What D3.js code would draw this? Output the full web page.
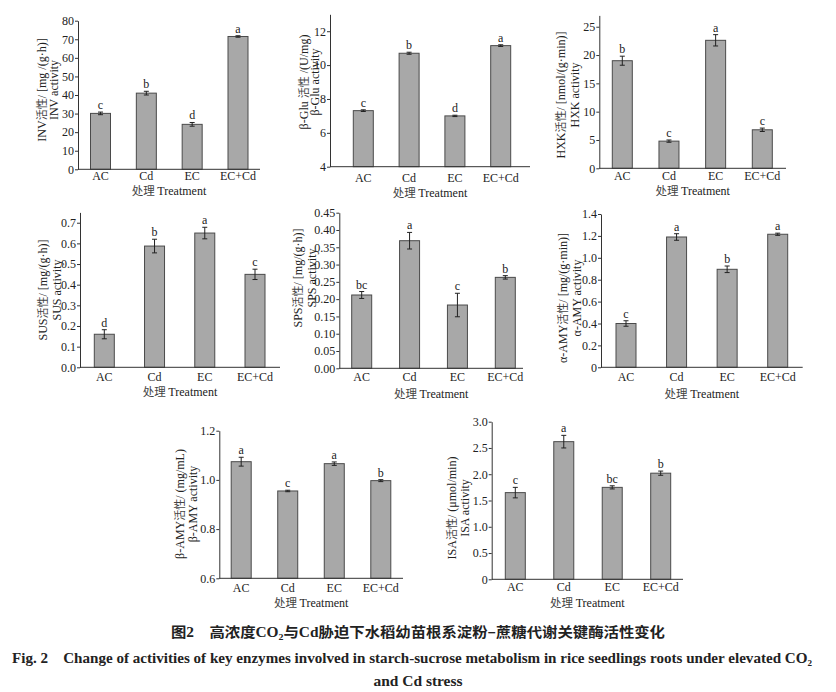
<!DOCTYPE html>
<html>
<head>
<meta charset="utf-8">
<script src="https://cdn.jsdelivr.net/npm/d3@7"></script>
<style>
  body { margin: 0; background: #fff; }
  svg { display: block; }
  text { font-family: "Liberation Serif", serif; fill: #222; }
  .cjk { font-family: "Noto Sans CJK SC", sans-serif; }
</style>
</head>
<body>
<div id="container"></div>
<script>
const width = 836;
const height = 692;

// treatments on every x axis
const treatments = ["AC", "Cd", "EC", "EC+Cd"];

// enzyme activities: mean, error, significance letter
const invMean = [30.1, 41.0, 24.2, 71.5];
const invErr = [0.7, 1.0, 1.0, 0.4];
const invSig = ["c", "b", "d", "a"];
const invTicks = [0, 10, 20, 30, 40, 50, 60, 70, 80];

const gluMean = [7.31, 10.70, 7.0, 11.15];
const gluErr = [0.05, 0.06, 0.04, 0.05];
const gluSig = ["c", "b", "d", "a"];
const gluTicks = [4, 6, 8, 10, 12];

const hxkMean = [19.0, 4.8, 22.6, 6.8];
const hxkErr = [0.8, 0.2, 1.0, 0.3];
const hxkSig = ["b", "c", "a", "c"];
const hxkTicks = [0, 5, 10, 15, 20, 25];

const susMean = [0.16, 0.587, 0.65, 0.45];
const susErr = [0.022, 0.033, 0.028, 0.025];
const susSig = ["d", "b", "a", "c"];
const susTicks = [0, 0.1, 0.2, 0.3, 0.4, 0.5, 0.6, 0.7];

const spsMean = [0.212, 0.369, 0.183, 0.263];
const spsErr = [0.01, 0.024, 0.034, 0.005];
const spsSig = ["bc", "a", "c", "b"];
const spsTicks = [0, 0.05, 0.10, 0.15, 0.20, 0.25, 0.30, 0.35, 0.40, 0.45];

const aamyMean = [0.40, 1.19, 0.895, 1.215];
const aamyErr = [0.025, 0.03, 0.03, 0.01];
const aamySig = ["c", "a", "b", "a"];
const aamyTicks = [0, 0.2, 0.4, 0.6, 0.8, 1.0, 1.2, 1.4];

const bamyMean = [1.074, 0.955, 1.066, 0.997];
const bamyErr = [0.018, 0.003, 0.007, 0.004];
const bamySig = ["a", "c", "a", "b"];
const bamyTicks = [0.6, 0.8, 1.0, 1.2];

const isaMean = [1.65, 2.62, 1.75, 2.02];
const isaErr = [0.1, 0.12, 0.03, 0.04];
const isaSig = ["c", "a", "bc", "b"];
const isaTicks = [0, 0.5, 1.0, 1.5, 2.0, 2.5, 3.0];

const fmtZero = d => d === 0 ? "0" : d3.format(".1f")(d);

// panel placement (pixels) -- measured off the reference
// lab: [latin prefix, cjk part, latin suffix] + second line
const panels = [
  { mean: invMean, err: invErr, sig: invSig, ticks: invTicks, domain: [0, 80], fmt: d3.format("d"),
    ax: 78, end: 260, yB: 169.3, yT: 20.7, c1: 100.5, c4: 238,
    lab: [["INV", "活性", "/ [mg /(g·h)]"], "INV activity"], lx: [42, 54], ly: 90, xl: 175.5, tl: 190.5 },
  { mean: gluMean, err: gluErr, sig: gluSig, ticks: gluTicks, domain: [4, 13], fmt: d3.format("d"),
    ax: 330, end: 530, yB: 166.7, yT: 14.3, c1: 363.3, c4: 500.7,
    lab: [["β-Glu ", "活性", " /(U/mg)"], "β-Glu activity"], lx: [304, 315], ly: 82, xl: 177.5, tl: 192.5 },
  { mean: hxkMean, err: hxkErr, sig: hxkSig, ticks: hxkTicks, domain: [0, 27], fmt: d3.format("d"),
    ax: 599.3, end: 786, yB: 168.3, yT: 15.4, c1: 622.3, c4: 762.3,
    lab: [["HXK", "活性", "/ [nmol/(g·min)]"], "HXK activity"], lx: [561, 575], ly: 95, xl: 175.5, tl: 191 },
  { mean: susMean, err: susErr, sig: susSig, ticks: susTicks, domain: [0, 0.75], fmt: d3.format(".1f"),
    ax: 80, end: 280, yB: 367.3, yT: 212.4, c1: 104.3, c4: 255,
    lab: [["SUS", "活性", "/ [mg/(g·h)]"], "SUS activity"], lx: [43, 57], ly: 290, xl: 376.5, tl: 392 },
  { mean: spsMean, err: spsErr, sig: spsSig, ticks: spsTicks, domain: [0, 0.45], fmt: d3.format(".2f"),
    ax: 339.3, end: 523, yB: 368.3, yT: 212.7, c1: 361.7, c4: 505.3,
    lab: [["SPS", "活性", "/ [mg/(g·h)]"], "SPS activity"], lx: [298, 312], ly: 278, xl: 377, tl: 394 },
  { mean: aamyMean, err: aamyErr, sig: aamySig, ticks: aamyTicks, domain: [0, 1.4], fmt: fmtZero,
    ax: 601, end: 802.7, yB: 367.3, yT: 214, c1: 626, c4: 777.7,
    lab: [["α-AMY", "活性", "/ [mg/(g·min)]"], "α-AMY activity"], lx: [563, 577], ly: 298, xl: 377, tl: 394 },
  { mean: bamyMean, err: bamyErr, sig: bamySig, ticks: bamyTicks, domain: [0.6, 1.2], fmt: d3.format(".1f"),
    ax: 219.3, end: 403, yB: 578.3, yT: 430.7, c1: 241.2, c4: 380.8,
    lab: [["β-AMY", "活性", "/ (mg/mL)"], "β-AMY activity"], lx: [180, 193], ly: 504, xl: 587.5, tl: 603 },
  { mean: isaMean, err: isaErr, sig: isaSig, ticks: isaTicks, domain: [0, 3.0], fmt: fmtZero,
    ax: 491.7, end: 683, yB: 579.3, yT: 421.7, c1: 515.3, c4: 660.7,
    lab: [["ISA", "活性", "/ (μmol/min)"], "ISA activity"], lx: [452, 465], ly: 508, xl: 587, tl: 603 }
];

const svg = d3.select("#container").append("svg")
  .attr("width", width)
  .attr("height", height);

const barW = 20;

function renderChart(p) {
  const g = svg.append("g");

  const x = d3.scalePoint().domain(treatments).range([p.c1, p.c4]);
  const y = d3.scaleLinear().domain(p.domain).range([p.yB, p.yT]);

  const rows = treatments.map((t, i) => ({ t: t, v: p.mean[i], e: p.err[i], s: p.sig[i] }));

  // bars
  g.selectAll("rect")
    .data(rows)
    .join("rect")
    .attr("x", d => x(d.t) - barW / 2)
    .attr("y", d => y(d.v))
    .attr("width", barW)
    .attr("height", d => p.yB - y(d.v))
    .attr("fill", "#a8a8a8")
    .attr("stroke", "#4a4a4a")
    .attr("stroke-width", 1);

  // error bars
  const eb = g.append("g").attr("stroke", "#222").attr("stroke-width", 1);
  rows.forEach(d => {
    const cx = x(d.t);
    eb.append("line").attr("x1", cx).attr("x2", cx).attr("y1", y(d.v - d.e)).attr("y2", y(d.v + d.e));
    eb.append("line").attr("x1", cx - 2.5).attr("x2", cx + 2.5).attr("y1", y(d.v + d.e)).attr("y2", y(d.v + d.e));
    eb.append("line").attr("x1", cx - 2.5).attr("x2", cx + 2.5).attr("y1", y(d.v - d.e)).attr("y2", y(d.v - d.e));
  });

  // significance letters
  g.selectAll("text.sig")
    .data(rows)
    .join("text")
    .attr("class", "sig")
    .attr("x", d => x(d.t))
    .attr("y", d => y(d.v + d.e) - 3)
    .attr("text-anchor", "middle")
    .attr("font-size", 12)
    .text(d => d.s);

  // y axis
  const yAxis = g.append("g")
    .attr("transform", `translate(${p.ax},0)`)
    .call(d3.axisLeft(y).tickValues(p.ticks).tickFormat(p.fmt).tickSize(3).tickSizeOuter(0).tickPadding(1));
  yAxis.select(".domain").attr("stroke", "#333");
  yAxis.selectAll(".tick line").attr("stroke", "#333");
  yAxis.selectAll(".tick text")
    .attr("font-size", 12)
    .attr("font-family", "Liberation Serif")
    .attr("fill", "#222");

  // x axis line
  g.append("line")
    .attr("x1", p.ax).attr("x2", p.end)
    .attr("y1", p.yB).attr("y2", p.yB)
    .attr("stroke", "#333");

  g.selectAll("text.xl")
    .data(treatments)
    .join("text")
    .attr("class", "xl")
    .attr("x", d => x(d))
    .attr("y", p.xl)
    .attr("dy", "0.35em")
    .attr("text-anchor", "middle")
    .attr("font-size", 12)
    .text(d => d);

  const tcx = (p.ax + p.end) / 2;
  const tr = g.append("text")
    .attr("x", tcx)
    .attr("y", p.tl)
    .attr("dy", "0.35em")
    .attr("text-anchor", "middle")
    .attr("font-size", 12);
  tr.append("tspan").attr("class", "cjk").attr("font-size", 11.5).attr("fill", "#444").text("处理 ");
  tr.append("tspan").text("Treatment");

  // y labels, two lines
  const l1 = g.append("text")
    .attr("transform", `translate(${p.lx[0]},${p.ly}) rotate(-90)`)
    .attr("text-anchor", "middle")
    .attr("dy", "0.35em")
    .attr("font-size", 12);
  l1.append("tspan").text(p.lab[0][0]);
  l1.append("tspan").attr("class", "cjk").attr("font-size", 11).attr("fill", "#444").text(p.lab[0][1]);
  l1.append("tspan").text(p.lab[0][2]);

  g.append("text")
    .attr("transform", `translate(${p.lx[1]},${p.ly}) rotate(-90)`)
    .attr("text-anchor", "middle")
    .attr("dy", "0.35em")
    .attr("font-size", 12)
    .text(p.lab[1]);
}

panels.forEach(renderChart);

// caption
const cap = svg.append("g").attr("font-weight", "bold");

const c1 = cap.append("text")
  .attr("x", 418).attr("y", 637)
  .attr("text-anchor", "middle")
  .attr("font-size", 14)
  .attr("textLength", 494)
  .attr("lengthAdjust", "spacingAndGlyphs");
c1.append("tspan").attr("class", "cjk").text("图");
c1.append("tspan").text("2\u2003");
c1.append("tspan").attr("class", "cjk").text("高浓度");
c1.append("tspan").text("CO");
c1.append("tspan").attr("font-size", 9).attr("dy", 3).text("2");
c1.append("tspan").attr("dy", -3).attr("class", "cjk").text("与");
c1.append("tspan").text("Cd");
c1.append("tspan").attr("class", "cjk").text("胁迫下水稻幼苗根系淀粉–蔗糖代谢关键酶活性变化");

const c2 = cap.append("text")
  .attr("x", 12).attr("y", 663)
  .attr("font-size", 15)
  .attr("textLength", 800)
  .attr("lengthAdjust", "spacingAndGlyphs");
c2.append("tspan").text("Fig. 2\u00a0\u00a0\u00a0\u00a0Change of activities of key enzymes involved in starch-sucrose metabolism in rice seedlings roots under elevated CO");
c2.append("tspan").attr("font-size", 9).attr("dy", 3).text("2");

cap.append("text")
  .attr("x", 418).attr("y", 686)
  .attr("text-anchor", "middle")
  .attr("font-size", 15)
  .attr("textLength", 89)
  .attr("lengthAdjust", "spacingAndGlyphs")
  .text("and Cd stress");
</script>
</body>
</html>
